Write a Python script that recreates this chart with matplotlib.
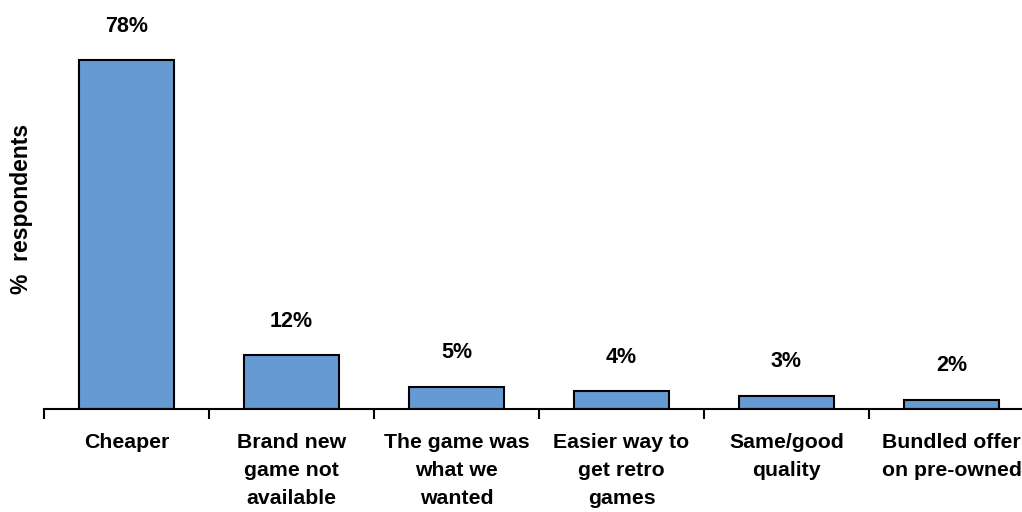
import matplotlib.pyplot as plt
import numpy as np

plt.rcParams['font.family'] = ['Liberation Sans', 'DejaVu Sans']

categories = ['Cheaper', 'Brand new\ngame not\navailable', 'The game was\nwhat we\nwanted',
              'Easier way to\nget retro\ngames', 'Same/good\nquality', 'Bundled offer\non pre-owned']
values = [78, 12, 5, 4, 3, 2]

fig = plt.figure(figsize=(10.22, 5.12), dpi=100)
ax = fig.add_axes([44 / 1022, 103 / 512, 990 / 1022, 409 / 512])

x = np.arange(len(categories))
ax.bar(x, values, width=0.58, color='#659AD3', edgecolor='black', linewidth=1.5, zorder=2)

for xi, v in zip(x, values):
    ax.annotate(f'{v}%', (xi, v), xytext=(0, 17), textcoords='offset points',
                ha='center', va='bottom', fontsize=15.5, fontweight='bold')

ax.set_xlim(-0.5, len(categories) - 0.5)
ax.set_ylim(0, 91.5)

for s in ['top', 'right', 'left']:
    ax.spines[s].set_visible(False)
ax.spines['bottom'].set_linewidth(1.5)
ax.set_yticks([])

# category boundary ticks, labels centred under bars
ax.set_xticks(np.arange(len(categories) + 1) - 0.5)
ax.set_xticklabels([])
ax.tick_params(axis='x', which='major', direction='out', length=7, width=1.5)
ax.set_xticks(x, minor=True)
ax.set_xticklabels(categories, minor=True, fontsize=15.3, fontweight='bold', linespacing=1.6)
ax.tick_params(axis='x', which='minor', length=0, pad=17)

ax.set_ylabel('%  respondents', fontsize=16.5, fontweight='bold')
ax.yaxis.set_label_coords(-0.011, 0.489)

fig.savefig('out.png', dpi=100)
